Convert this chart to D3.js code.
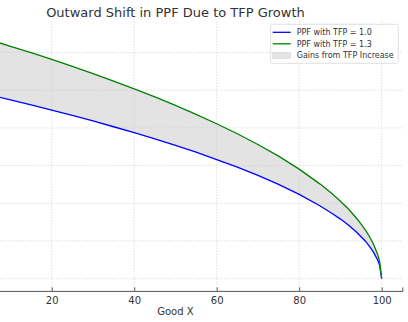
<!DOCTYPE html>
<html><head><meta charset="utf-8">
<script src="https://cdn.jsdelivr.net/npm/d3@7"></script>
<style>
html,body{margin:0;padding:0;background:#fff;}
svg{display:block;font-family:"DejaVu Sans",sans-serif;}
</style></head>
<body>
<svg id="chart" width="408" height="322"></svg>
<script>
// Data
const goodX =   [0, 5, 10, 15, 20, 25, 30, 35, 40, 45, 50, 55, 60, 65, 70, 75, 80, 85, 88, 90, 92, 94, 96, 97, 98, 99, 99.5, 100];
const ppfTfp10 = [100, 97.5, 94.9, 92.2, 89.4, 86.6, 83.7, 80.6, 77.5, 74.2, 70.7, 67.1, 63.2, 59.2, 54.8, 50.0, 44.7, 38.7, 34.6, 31.6, 28.3, 24.5, 20.0, 17.3, 14.1, 10.0, 7.1, 0];
const ppfTfp13 = [130, 126.7, 123.3, 119.9, 116.3, 112.6, 108.8, 104.8, 100.7, 96.4, 91.9, 87.2, 82.2, 76.9, 71.2, 65.0, 58.1, 50.3, 45.0, 41.1, 36.8, 31.8, 26.0, 22.5, 18.4, 13.0, 9.2, 0];
const xTicks = [20, 40, 60, 80, 100];
const yGrid = [0, 20, 40, 60, 80, 100, 120];
const seriesNames = ["PPF with TFP = 1.0", "PPF with TFP = 1.3", "Gains from TFP Increase"];
const titleText = "Outward Shift in PPF Due to TFP Growth";
const xLabel = "Good X";

(function () {
const svg = d3.select("#chart");
const pL = -51.4, pR = 402.3, pT = 21.4, pB = 290.9;
const x = d3.scaleLinear().domain([-5, 105]).range([pL, pR]);
const y = d3.scaleLinear().domain([-6.5, 136.5]).range([pB, pT]);

const rows = goodX.map((v, i) => ({x: v, a: ppfTfp10[i], b: ppfTfp13[i]}));

// fill
svg.append("path").datum(rows)
  .attr("d", d3.area().x(d => x(d.x)).y0(d => y(d.a)).y1(d => y(d.b)))
  .attr("fill", "#e3e3e3");

// grid
const grid = svg.append("g").attr("stroke", "#cfcfcf").attr("stroke-width", 0.8).attr("stroke-dasharray", "1.2,1.6");
grid.selectAll("line.v").data(xTicks).join("line").attr("class", "v")
  .attr("x1", d => x(d)).attr("x2", d => x(d)).attr("y1", pT).attr("y2", pB);
grid.selectAll("line.h").data(yGrid).join("line").attr("class", "h")
  .attr("y1", d => y(d)).attr("y2", d => y(d)).attr("x1", 0).attr("x2", pR);

// lines
const line = key => d3.line().x(d => x(d.x)).y(d => y(d[key]));
svg.append("path").datum(rows).attr("d", line("a")).attr("fill", "none").attr("stroke", "#0000ff").attr("stroke-width", 1.3);
svg.append("path").datum(rows).attr("d", line("b")).attr("fill", "none").attr("stroke", "#008000").attr("stroke-width", 1.3);

// x axis
const xAxis = svg.append("g").attr("transform", `translate(0,${pB})`)
  .call(d3.axisBottom(x).tickValues(xTicks).tickSize(-3.5).tickPadding(6).tickFormat(d3.format("d")));
xAxis.select(".domain").attr("stroke", "#555").attr("stroke-width", 1);
xAxis.selectAll(".tick line").attr("stroke", "#555");
xAxis.selectAll("text").attr("fill", "#333").style("font-size", "10px").style("font-family", "DejaVu Sans");

// title
svg.append("text").attr("x", (pL + pR) / 2).attr("y", 16.6).attr("text-anchor", "middle")
  .attr("fill", "#333").style("font-size", "13px").text(titleText);
svg.append("text").attr("x", (pL + pR) / 2).attr("y", 314.7).attr("text-anchor", "middle")
  .attr("fill", "#333").style("font-size", "10px").text(xLabel);

// legend
const lg = svg.append("g");
lg.append("rect").attr("x", 270.7).attr("y", 24.3).attr("width", 127.6).attr("height", 39)
  .attr("rx", 2).attr("fill", "#fff").attr("fill-opacity", 0.85).attr("stroke", "#d8d8d8").attr("stroke-width", 0.8);
const colors = ["#0000ff", "#008000", "#e3e3e3"];
const rowY = [32.3, 43.8, 55.2];
seriesNames.forEach((n, i) => {
  if (i < 2) {
    lg.append("line").attr("x1", 272.7).attr("x2", 290.7).attr("y1", rowY[i]).attr("y2", rowY[i])
      .attr("stroke", colors[i]).attr("stroke-width", 1.3);
  } else {
    lg.append("rect").attr("x", 272.7).attr("y", rowY[i] - 3).attr("width", 18).attr("height", 6.5)
      .attr("fill", colors[i]).attr("stroke", "#d0d0d0").attr("stroke-width", 0.4);
  }
  lg.append("text").attr("x", 296.7).attr("y", rowY[i] + 2.9).attr("fill", "#333")
    .style("font-size", "8px").text(n);
});
})();
</script>
</body></html>
